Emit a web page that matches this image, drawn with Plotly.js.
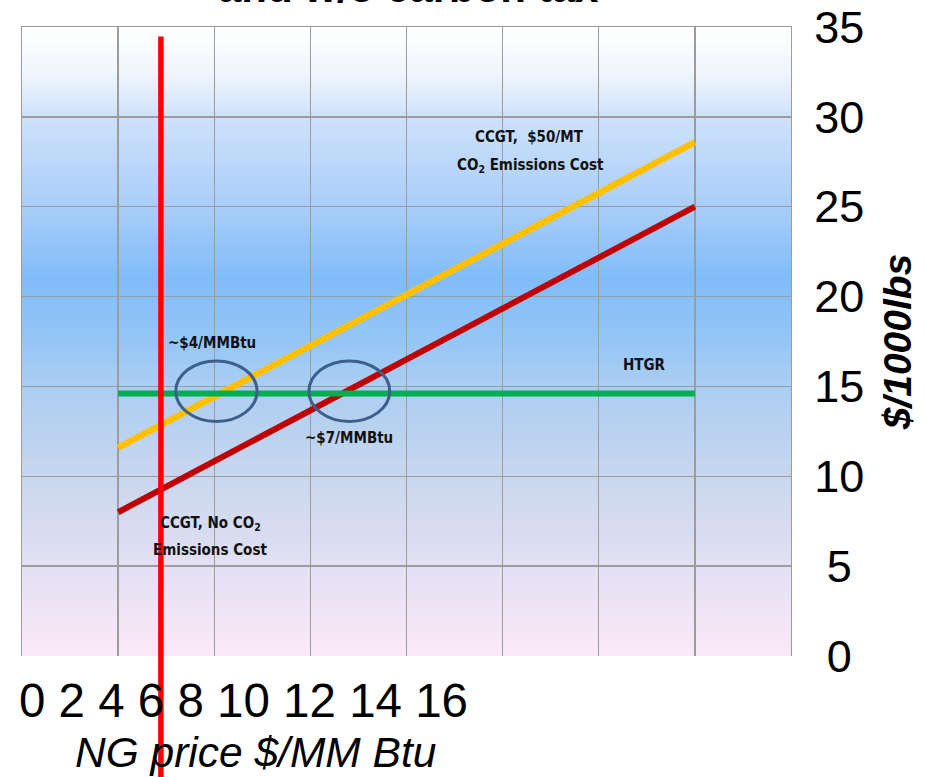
<!DOCTYPE html>
<html>
<head>
<meta charset="utf-8">
<script src="https://cdn.plot.ly/plotly-3.0.1.min.js"></script>
<style>
  html, body { margin: 0; padding: 0; background: #ffffff; }
  #chart { width: 926px; height: 777px; }
</style>
</head>
<body>
<div id="chart"></div>
<script>
// Natural gas price ($/MMBtu) at the two ends of each cost line
const ngPrice = [2, 14];
// Steam cost, $/1000 lbs
const htgrCost = [14.6, 14.6];
const ccgtNoCO2Cost = [8.0, 25.0];
const ccgtCO2Cost = [11.6, 28.6];

// Break-even ellipses: [x0, x1, y0, y1]
const breakEvenNoTax = [3.20, 4.89, 13.05, 16.42];
const breakEvenNoCO2 = [5.97, 7.65, 13.05, 16.42];

// Vertical marker line on the gas price axis
const markerPrice = 2.89;

// Axis labelling
const xTickLabels = ['0', '2', '4', '6', '8', '10', '12', '14', '16'];
const yTickVals = [0, 5, 10, 15, 20, 25, 30, 35];
const yTickText = ['\u00a00', '\u00a05', '10', '15', '20', '25', '30', '35'];

// Vertical background gradient stops (fraction from top, colour)
const bgStops = [
  [0.00, [255, 255, 255]],
  [0.08, [238, 244, 253]],
  [0.14, [207, 226, 251]],
  [0.29, [168, 205, 249]],
  [0.40, [128, 188, 249]],
  [0.50, [149, 198, 246]],
  [0.57, [171, 205, 242]],
  [0.72, [201, 215, 238]],
  [0.86, [227, 224, 243]],
  [1.00, [251, 233, 248]]
];

function bgColour(f) {
  for (let i = 1; i < bgStops.length; i++) {
    const [f1, c1] = bgStops[i];
    const [f0, c0] = bgStops[i - 1];
    if (f <= f1) {
      const t = (f - f0) / (f1 - f0);
      const c = c0.map((v, k) => Math.round(v + (c1[k] - v) * t));
      return 'rgb(' + c.join(',') + ')';
    }
  }
  const last = bgStops[bgStops.length - 1][1];
  return 'rgb(' + last.join(',') + ')';
}

const yMax = 35;
const bandCount = 140;
const shapes = [];
for (let i = 0; i < bandCount; i++) {
  const top = yMax - (yMax * i) / bandCount;
  const bottom = yMax - (yMax * (i + 1)) / bandCount;
  shapes.push({
    type: 'rect', layer: 'below', xref: 'paper', yref: 'y',
    x0: 0, x1: 1, y0: bottom - 0.05, y1: top,
    fillcolor: bgColour((i + 0.5) / bandCount),
    line: { width: 0 }
  });
}

[breakEvenNoTax, breakEvenNoCO2].forEach(e => {
  shapes.push({
    type: 'circle', xref: 'x', yref: 'y',
    x0: e[0], x1: e[1], y0: e[2], y1: e[3],
    line: { color: '#3d5f8c', width: 3 }
  });
});

shapes.push({
  type: 'line', xref: 'x', yref: 'paper',
  x0: markerPrice, x1: markerPrice, y0: -0.25, y1: 0.985,
  line: { color: '#ff0000', width: 5.5 }
});

const traces = [
  {
    x: ngPrice, y: ccgtCO2Cost, type: 'scatter', mode: 'lines',
    name: 'CCGT, $50/MT CO2 Emissions Cost',
    line: { color: '#ffc000', width: 6.5 }
  },
  {
    x: ngPrice, y: ccgtNoCO2Cost, type: 'scatter', mode: 'lines',
    name: 'CCGT, No CO2 Emissions Cost',
    line: { color: '#c00000', width: 6 }
  },
  {
    x: ngPrice, y: htgrCost, type: 'scatter', mode: 'lines',
    name: 'HTGR',
    line: { color: '#00b050', width: 6 }
  }
];

const noteFont = { family: 'Liberation Sans Narrow, Arial Narrow, DejaVu Sans Condensed, sans-serif', size: 15, color: '#111111', weight: 'bold' };
function note(text, x, y) {
  return { text: text, x: x, y: y, xref: 'x', yref: 'y', showarrow: false, font: noteFont, xanchor: 'center', yanchor: 'middle' };
}

const annotations = [
  note('CCGT,  $50/MT', 10.55, 28.88),
  note('CO<sub>2</sub> Emissions Cost', 10.57, 27.32),
  note('~$4/MMBtu', 3.95, 17.42),
  note('~$7/MMBtu', 6.80, 12.13),
  note('HTGR', 12.96, 16.19),
  note('CCGT, No CO<sub>2</sub>', 3.93, 7.40),
  note('Emissions Cost', 3.91, 5.90),
  {
    text: 'and w/o carbon tax', xref: 'paper', yref: 'paper',
    x: 0.502, y: 1.022, xanchor: 'center', yanchor: 'bottom', showarrow: false,
    font: { family: 'Liberation Sans, Arial, sans-serif', size: 42, color: '#000000', weight: 'bold' }
  },
  {
    text: xTickLabels.join(' '), xref: 'paper', yref: 'paper',
    x: -0.006, y: -0.07, xanchor: 'left', yanchor: 'middle', showarrow: false,
    font: { family: 'Liberation Sans, Arial, sans-serif', size: 47.5, color: '#000000' }
  },
  {
    text: '<i>NG price $/MM Btu</i>', xref: 'paper', yref: 'paper',
    x: 0.304, y: -0.154, xanchor: 'center', yanchor: 'middle', showarrow: false,
    font: { family: 'Liberation Sans, Arial, sans-serif', size: 42.5, color: '#000000' }
  }
];

const gridGrey = '#9c9c9c';

const layout = {
  width: 926, height: 777,
  margin: { l: 22, r: 135, t: 27, b: 121, pad: 0 },
  paper_bgcolor: '#ffffff',
  plot_bgcolor: 'rgba(0,0,0,0)',
  showlegend: false,
  xaxis: {
    side: 'top', range: [0, 16], dtick: 2, tick0: 0,
    showgrid: true, gridcolor: gridGrey, gridwidth: 1.3,
    showline: true, linecolor: gridGrey, linewidth: 1.3, mirror: false,
    zeroline: false, showticklabels: false, ticks: ''
  },
  yaxis: {
    side: 'right', range: [0, yMax],
    tickmode: 'array', tickvals: yTickVals, ticktext: yTickText,
    showgrid: true, gridcolor: gridGrey, gridwidth: 1.3,
    showline: true, linecolor: gridGrey, linewidth: 1.3, mirror: true,
    zeroline: false, ticks: '',
    ticklabelstandoff: 13,
    tickfont: { family: 'Liberation Sans, Arial, sans-serif', size: 45, color: '#000000' },
    title: {
      text: '<b><i>$/1000lbs</i></b>', standoff: 20,
      font: { family: 'Liberation Sans, Arial, sans-serif', size: 39, color: '#000000' }
    }
  },
  shapes: shapes,
  annotations: annotations
};

Plotly.newPlot('chart', traces, layout, { displayModeBar: false, staticPlot: true });
</script>
</body>
</html>
